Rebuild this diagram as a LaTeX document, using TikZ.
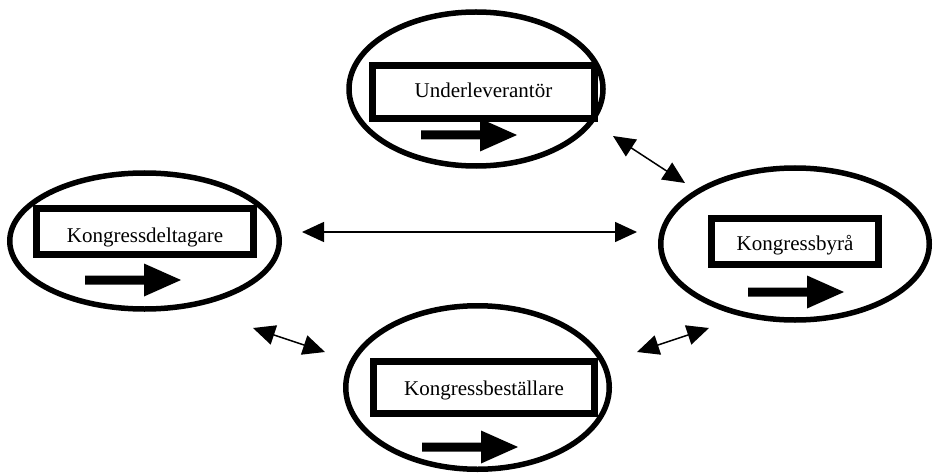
\documentclass[tikz,border=0pt]{standalone}
\usepackage{fontspec}
\setmainfont{Liberation Serif}
\usetikzlibrary{shapes.geometric,arrows.meta}
\newcommand\boxtext[2]{\raisebox{-#1}[0pt][0pt]{#2}}
\tikzset{
  party/.style={ellipse, draw, line width=5.5pt, inner sep=0pt},
  rolebox/.style={rectangle, draw, line width=7pt, inner sep=0pt,
    font=\fontsize{21}{25}\selectfont},
  link/.style={line width=1.5pt, {Triangle[length=22pt,width=20pt]}-{Triangle[length=22pt,width=20pt]}},
  pics/fatarrow/.style={code={
    \fill (0,-4.5) -- (59,-4.5) -- (59,-16.5) -- (96,0) -- (59,16.5) -- (59,4.5) -- (0,4.5) -- cycle;
  }}
}
\begin{document}
\begin{tikzpicture}[x=1pt,y=-1pt]
\useasboundingbox (0,0) rectangle (933,473);
% ellipses
\node[party, minimum width=254pt, minimum height=154pt] (eU) at (476,89) {};
\node[party, minimum width=269.5pt, minimum height=136pt] (eD) at (144.5,241) {};
\node[party, minimum width=268.5pt, minimum height=152pt] (eB) at (795,244) {};
\node[party, minimum width=263.5pt, minimum height=163.5pt] (eK) at (477.5,387.5) {};
% boxes
\node[rolebox, minimum width=222pt, minimum height=53pt] (bU) at (483.5,92) {\boxtext{6pt}{Underleverantör}};
\node[rolebox, minimum width=217pt, minimum height=46pt] (bD) at (145,231.5) {\boxtext{11pt}{Kongressdeltagare}};
\node[rolebox, minimum width=167pt, minimum height=46pt] (bB) at (795,241.5) {\boxtext{8.5pt}{Kongressbyrå}};
\node[rolebox, minimum width=221pt, minimum height=52pt] (bK) at (484,387.5) {\boxtext{7.5pt}{Kongressbeställare}};
% fat arrows
\pic at (421,135) {fatarrow};
\pic at (85,280) {fatarrow};
\pic at (748,292) {fatarrow};
\pic at (422,447) {fatarrow};
% connector ends
\coordinate (h1) at (302,232);
\coordinate (h2) at (637,232);
\coordinate (t1) at (613,136);
\coordinate (t2) at (685,183);
\coordinate (l1) at (253,328);
\coordinate (l2) at (325,352);
\coordinate (r1) at (637,352);
\coordinate (r2) at (709,328);
\draw[link] (h1) -- (h2);
\draw[link] (t1) -- (t2);
\draw[link] (l1) -- (l2);
\draw[link] (r1) -- (r2);
\end{tikzpicture}
\end{document}
